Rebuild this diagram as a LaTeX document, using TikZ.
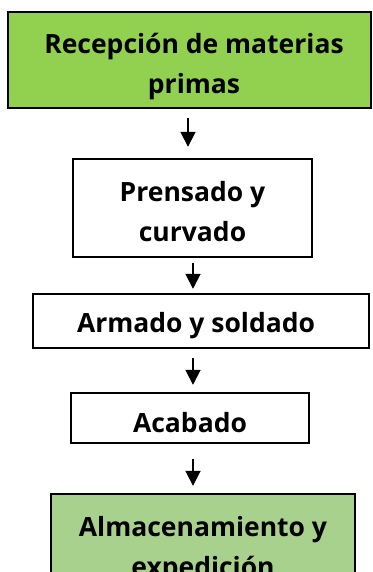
\documentclass[tikz,border=0pt]{standalone}
\usepackage{fontspec}
\setmainfont{Open Sans}
\usetikzlibrary{arrows.meta}
\definecolor{greenA}{HTML}{92D050}
\definecolor{greenB}{HTML}{A9D18E}
\tikzset{
  boxstyle/.style={draw=black, line width=1.6pt, inner sep=0pt},
  txt/.style={font=\bfseries\fontsize{26.5}{40}\selectfont, align=center, inner sep=0pt},
  arr/.style={line width=1.8pt, -{Triangle[width=15pt,length=15pt]}},
}
\begin{document}
\begin{tikzpicture}[x=1pt,y=-1pt]
\useasboundingbox (0,0) rectangle (372,572);
\clip (0,0) rectangle (372,572);
% boxes
\path[boxstyle, fill=greenA] (8,12) rectangle (371,108);
\node[inner sep=0pt, minimum width=363pt, minimum height=96pt] (b1) at (189.5,60) {};
\draw[boxstyle, fill=white] (73,159) rectangle (312,257);
\node[inner sep=0pt, minimum width=239pt, minimum height=98pt] (b2) at (192.5,208) {};
\draw[boxstyle, fill=white] (33,294) rectangle (369,348);
\node[inner sep=0pt, minimum width=336pt, minimum height=54pt] (b3) at (201,321) {};
\draw[boxstyle, fill=white] (71,393) rectangle (309,443);
\node[inner sep=0pt, minimum width=238pt, minimum height=50pt] (b4) at (190,418) {};
\draw[boxstyle, fill=greenB] (51,494) rectangle (355,620);
\node[inner sep=0pt, minimum width=304pt, minimum height=126pt] (b5) at (203,557) {};
\draw[boxstyle] (8,12) rectangle (371,108);
% texts
\node[txt] (t1) at (194,67) {Recepción de materias\\primas};
\node[txt] (t2) at (192.5,212) {Prensado y\\curvado};
\node[txt] (t3) at (196,326) {Armado y soldado};
\node[txt] (t4) at (190,423) {Acabado};
\node[txt] (t5) at (203,550) {Almacenamiento y\\expedición};
% arrows
\draw[arr] ([xshift=-1.5pt,yshift=-10pt]b1.south) -- ([xshift=-4.5pt,yshift=12pt]b2.north);
\draw[arr] ([xshift=0.5pt,yshift=-6pt]b2.south) -- ([xshift=-8pt,yshift=5pt]b3.north);
\draw[arr] ([xshift=-8pt,yshift=-10pt]b3.south) -- ([xshift=3pt,yshift=8pt]b4.north);
\draw[arr] ([xshift=3pt,yshift=-16pt]b4.south) -- ([xshift=-10pt,yshift=8pt]b5.north);
\end{tikzpicture}
\end{document}
